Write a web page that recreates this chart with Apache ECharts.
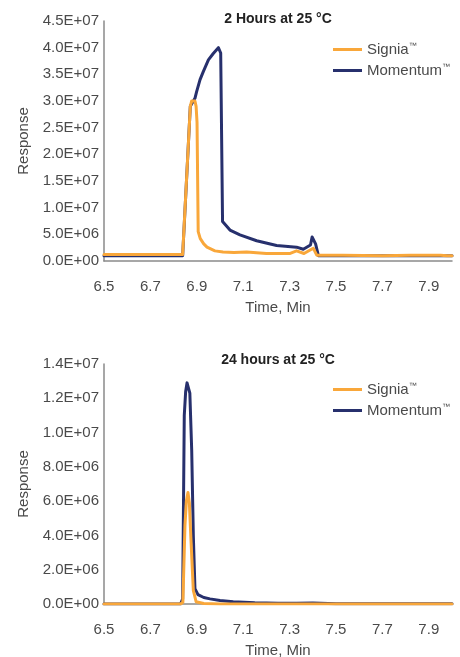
<!DOCTYPE html>
<html>
<head>
<meta charset="utf-8">
<script src="https://cdn.jsdelivr.net/npm/echarts@6/dist/echarts.min.js"></script>
<style>
  html, body { margin: 0; padding: 0; background: #fff; }
  #chart { width: 460px; height: 657px; }
</style>
</head>
<body>
<div id="chart"></div>
<script>
// 2 hours at 25 °C  [time (min), response]
const signia2h = [
  [6.5, 1.2e6], [6.7, 1.2e6], [6.839, 1.2e6], [6.872, 2.9e7], [6.878, 3.0e7], [6.884, 3.03e7],
  [6.892, 3.0e7], [6.897, 2.9e7], [6.901, 2.6e7], [6.906, 5.5e6], [6.915, 4.2e6], [6.93, 3.2e6], [6.944, 2.6e6],
  [6.978, 1.9e6], [7.013, 1.7e6], [7.06, 1.6e6], [7.115, 1.7e6], [7.2, 1.4e6],
  [7.3, 1.4e6], [7.33, 1.9e6], [7.362, 1.4e6], [7.402, 2.4e6], [7.417, 1.1e6],
  [7.53, 1.1e6], [7.7, 1.0e6], [7.82, 1.1e6], [7.95, 1.1e6], [7.98, 1.0e6], [8.0, 1.0e6]
];
const momentum2h = [
  [6.5, 1.0e6], [6.7, 1.0e6], [6.839, 1.0e6], [6.872, 2.9e7], [6.892, 3.05e7],
  [6.899, 3.17e7], [6.914, 3.4e7], [6.928, 3.55e7], [6.95, 3.77e7], [6.971, 3.89e7],
  [6.993, 4.0e7], [7.0, 4.02e7], [7.003, 3.9e7], [7.011, 7.4e6], [7.043, 5.8e6],
  [7.086, 4.9e6], [7.158, 3.8e6], [7.244, 2.9e6], [7.33, 2.6e6], [7.359, 2.2e6],
  [7.39, 3.0e6], [7.397, 4.5e6], [7.404, 4.6e6], [7.412, 3.2e6], [7.424, 1.0e6], [7.53, 1.0e6],
  [7.82, 1.0e6], [7.95, 1.0e6], [8.0, 1.0e6]
];

// 24 hours at 25 °C
const signia24h = [
  [6.5, 0], [6.83, 0], [6.84, 0.1e6], [6.849, 4.6e6], [6.855, 6.0e6], [6.862, 6.5e6],
  [6.868, 5.9e6], [6.874, 4.0e6], [6.885, 0.8e6], [6.897, 0.13e6], [6.93, 0.03e6], [7.0, 0], [8.0, 0]
];
const momentum24h = [
  [6.5, 0], [6.83, 0], [6.839, 0.3e6], [6.846, 1.1e7], [6.852, 1.24e7], [6.858, 1.29e7],
  [6.864, 1.29e7], [6.870, 1.23e7], [6.878, 9.0e6], [6.885, 4.0e6], [6.892, 0.9e6],
  [6.905, 0.55e6], [6.93, 0.38e6], [6.957, 0.3e6], [7.0, 0.2e6],
  [7.057, 0.13e6], [7.15, 0.07e6], [7.25, 0.04e6], [7.33, 0.04e6], [7.4, 0.06e6], [7.5, 0.02e6], [8.0, 0.02e6]
];

const seriesNames = ['Signia™', 'Momentum™'];
const titles = ['2 Hours at 25 °C', '24 hours at 25 °C'];
const xLabels = ['6.5', '6.7', '6.9', '7.1', '7.3', '7.5', '7.7', '7.9'];

const ORANGE = '#F9A73A';
const NAVY = '#27306D';
const AXIS = '#8a8a8a';
const TEXT = '#4a4a4a';
const FONT = 'Liberation Sans';

function sci(v) {
  if (v === 0) return '0.0E+00';
  const e = Math.floor(Math.log10(v) + 1e-9);
  const m = v / Math.pow(10, e);
  return m.toFixed(1) + 'E+' + String(e).padStart(2, '0');
}

function xLabel(v) {
  const s = v.toFixed(1);
  return xLabels.indexOf(s) > -1 ? s : '';
}

// small raised trademark sign in the legend
function legendLabel(name) {
  return '{n|' + name.replace('™', '') + '}{tm|™}';
}

// fixed plot boxes; stop v6 from shrinking them to fit the axis names
const grids = [
  { left: 104, top: 21, width: 348, height: 240, outerBoundsMode: 'none', containLabel: false },
  { left: 104, top: 364, width: 348, height: 240, outerBoundsMode: 'none', containLabel: false }
];

function xAxis(i) {
  return {
    type: 'value', gridIndex: i, min: 6.5, max: 8.0, interval: 0.1,
    name: 'Time, Min', nameLocation: 'middle', nameGap: 39,
    nameTextStyle: { color: TEXT, fontSize: 15, fontFamily: FONT },
    axisLine: { show: true, lineStyle: { color: AXIS, width: 1.5 } },
    axisTick: { show: false },
    splitLine: { show: false },
    axisLabel: { color: TEXT, fontSize: 15, fontFamily: FONT, margin: 18, formatter: xLabel }
  };
}

function yAxis(i, max, interval) {
  return {
    type: 'value', gridIndex: i, min: 0, max: max, interval: interval,
    name: 'Response', nameLocation: 'middle', nameGap: 72, nameRotate: 90,
    nameTextStyle: { color: TEXT, fontSize: 15, fontFamily: FONT },
    axisLine: { show: true, lineStyle: { color: AXIS, width: 1.5 } },
    axisTick: { show: false },
    splitLine: { show: false },
    axisLabel: { color: TEXT, fontSize: 15, fontFamily: FONT, margin: 5, formatter: sci }
  };
}

function line(name, data, color, i) {
  return {
    name: name, type: 'line', data: data, xAxisIndex: i, yAxisIndex: i,
    showSymbol: false, symbol: 'none', animation: false,
    lineStyle: { color: color, width: 3, join: 'round', cap: 'round' }, itemStyle: { color: color }
  };
}

function legend(top) {
  return {
    data: seriesNames, orient: 'vertical', left: 333, top: top, padding: 0,
    icon: 'rect', itemWidth: 29, itemHeight: 3, itemGap: 6,
    formatter: legendLabel,
    textStyle: {
      color: TEXT, fontSize: 15, fontFamily: FONT,
      rich: {
        n: { color: TEXT, fontSize: 15, fontFamily: FONT },
        tm: { color: TEXT, fontSize: 8, fontFamily: FONT, padding: [0, 0, 7, 0] }
      }
    }
  };
}

const chart = echarts.init(document.getElementById('chart'), null, { renderer: 'canvas' });
chart.setOption({
  backgroundColor: '#fff',
  animation: false,
  title: [
    { text: titles[0], left: 278, top: 12, padding: 0, textAlign: 'center',
      textStyle: { color: '#222', fontSize: 14, fontWeight: 'bold', fontFamily: FONT } },
    { text: titles[1], left: 278, top: 353, padding: 0, textAlign: 'center',
      textStyle: { color: '#222', fontSize: 14, fontWeight: 'bold', fontFamily: FONT } }
  ],
  legend: [
    Object.assign(legend(42), { id: 'l1' }),
    Object.assign(legend(382), { id: 'l2' })
  ],
  grid: grids,
  xAxis: [xAxis(0), xAxis(1)],
  yAxis: [yAxis(0, 4.5e7, 5e6), yAxis(1, 1.4e7, 2e6)],
  series: [
    line(seriesNames[1], momentum2h, NAVY, 0),
    line(seriesNames[0], signia2h, ORANGE, 0),
    line(seriesNames[1], momentum24h, NAVY, 1),
    line(seriesNames[0], signia24h, ORANGE, 1)
  ]
});
</script>
</body>
</html>
